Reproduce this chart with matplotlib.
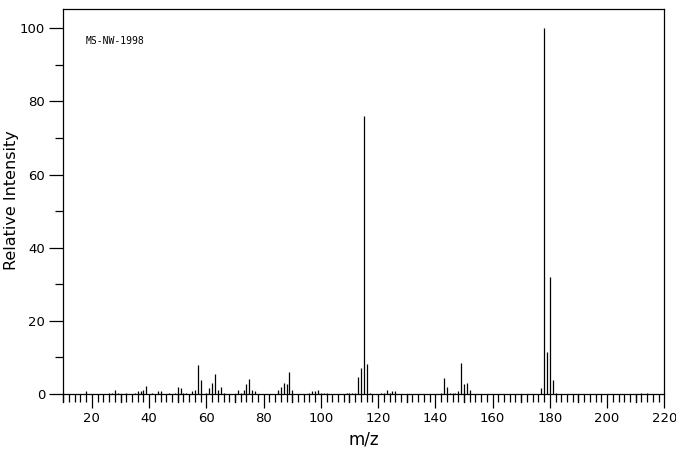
import matplotlib
matplotlib.use("Agg")
import matplotlib.pyplot as plt
from matplotlib.ticker import MultipleLocator

# m/z values and relative intensities
mz = [18, 26, 27, 28, 29, 32, 35, 36, 37, 38, 39, 41, 43, 44, 47, 49, 50, 51, 52, 53,
      55, 56, 57, 58, 60, 61, 62, 63, 64, 65, 66, 71, 72, 73, 74, 75, 76, 77,
      85, 86, 87, 88, 89, 90, 96, 97, 98, 99, 100, 101, 102,
      109, 110, 111, 112, 113, 114, 115, 116, 117, 121, 122, 123, 124, 125, 126,
      142, 143, 144, 145, 146, 147, 148, 149, 150, 151, 152,
      177, 178, 179, 180, 181, 182, 212, 214]
intensity = [0.7, 0.4, 0.4, 1.2, 0.4, 0.4, 0.4, 0.7, 0.7, 1.0, 2.3, 0.4, 0.7, 0.7, 0.4, 0.4, 1.8, 1.5, 0.4, 0.4,
             0.9, 1.0, 7.8, 3.7, 0.4, 1.5, 2.9, 5.6, 1.0, 1.8, 0.4, 1.0, 0.4, 1.2, 2.6, 4.0, 1.2, 0.7,
             1.0, 1.8, 2.9, 2.6, 5.9, 1.2, 0.4, 0.7, 0.7, 1.0, 0.4, 0.4, 0.4,
             0.4, 0.4, 0.4, 0.4, 4.6, 7.0, 76.0, 8.1, 0.4, 0.4, 0.4, 1.0, 0.4, 0.7, 0.7,
             0.4, 4.5, 2.0, 0.4, 0.3, 0.4, 0.7, 8.6, 2.6, 3.0, 1.0,
             1.5, 100.0, 11.6, 32.0, 3.7, 0.4, 0.4, 0.4]

x_ticks = [20, 40, 60, 80, 100, 120, 140, 160, 180, 200, 220]
y_ticks = [0, 20, 40, 60, 80, 100]
label_text = "MS-NW-1998"

fig = plt.figure(figsize=(6.76, 4.55), dpi=100)
ax = fig.add_axes([0.0936, 0.1341, 0.8891, 0.8455])

lw = 0.9
ax.vlines(mz, 0, intensity, colors="black", linewidth=lw)

ax.set_xlim(10, 220)
ax.set_ylim(0, 105.2)

for s in ax.spines.values():
    s.set_linewidth(lw)
    s.set_color("black")

ax.set_xticks(x_ticks)
ax.set_yticks(y_ticks)
ax.xaxis.set_minor_locator(MultipleLocator(2))
ax.yaxis.set_minor_locator(MultipleLocator(10))
ax.tick_params(axis="both", which="major", direction="out", length=10, width=lw,
               labelsize=9.5, pad=3, colors="black")
ax.tick_params(axis="both", which="minor", direction="out", length=5.5, width=lw)
ax.tick_params(axis="x", which="minor", length=6)

# medium ticks at every 10 on x axis
for v in range(10, 221, 20):
    ax.plot([v, v], [0, -8 / 3.657], color="black", lw=lw, clip_on=False, zorder=3)

ax.set_xlabel("m/z", fontsize=12, labelpad=4)
fig.text(12 / 676, 1 - 200 / 455, "Relative Intensity", fontsize=11.5,
         rotation=90, ha="center", va="center")

ax.text(17.8, 96.6, label_text, fontsize=7, family="DejaVu Sans Mono", va="center", ha="left")

fig.savefig("out.png", dpi=100)
